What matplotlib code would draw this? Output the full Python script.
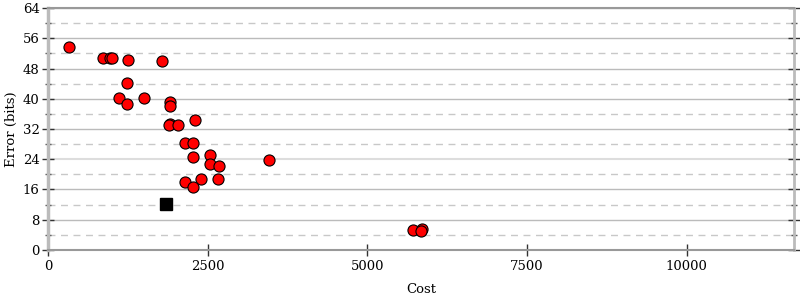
import matplotlib.pyplot as plt
from matplotlib.ticker import MultipleLocator

plt.rcParams['font.family'] = ['DejaVu Serif']

# costo y error de cada configuracion
cost = [329, 856, 970, 1000, 1247, 1779, 1241, 1111, 1241, 1507, 1904, 1904,
        1904, 1890, 2029, 2300, 2144, 2274, 2274, 2535, 2535, 2671, 3463,
        2394, 2665, 2144, 2269, 5717, 5848, 5840]
error = [53.8, 50.9, 50.8, 50.7, 50.3, 50.0, 44.2, 40.1, 38.5, 40.2, 39.2, 38.1,
         33.2, 33.0, 33.0, 34.4, 28.3, 28.4, 24.7, 25.2, 22.75, 22.3, 23.7,
         18.9, 18.8, 18.1, 16.6, 5.2, 5.5, 5.0]

# punto de referencia (cuadrado negro)
ref_cost = [1852]
ref_error = [12.1]

fig = plt.figure(figsize=(8, 3), dpi=100)
ax = fig.add_axes([0.06, 0.1667, 0.9325, 0.8066])

ax.plot(cost, error, 'o', color='red', markeredgecolor='black',
        markeredgewidth=0.8, markersize=8, zorder=3)
ax.plot(ref_cost, ref_error, 's', color='black', markersize=8.5, zorder=3)

ax.set_xlim(0, 11680)
ax.set_ylim(0, 64)
ax.xaxis.set_major_locator(MultipleLocator(2500))
ax.yaxis.set_major_locator(MultipleLocator(8))
ax.yaxis.set_minor_locator(MultipleLocator(4))

ax.grid(axis='y', which='major', color='#bbbbbb', linewidth=1)
ax.grid(axis='y', which='minor', color='#c8c8c8', linewidth=1, linestyle=(0, (5, 4)))
ax.set_axisbelow(True)
# la linea de 32 es mas clara en el original
ax.get_ygridlines()[4].set_color('#dddddd')
ax.get_ygridlines()[4].set_linewidth(1.5)

ax.tick_params(axis='y', which='major', direction='inout', length=8, width=1,
               right=True, labelsize=9.5, pad=2, color='#333333')
ax.tick_params(axis='y', which='minor', direction='inout', length=5, width=1,
               right=True, color='#555555')
ax.tick_params(axis='x', direction='inout', length=8, width=1,
               labelsize=9.5, color='#333333')

for side in ['top', 'bottom']:
    ax.spines[side].set_color('#999999')
    ax.spines[side].set_linewidth(1.5)
ax.spines['left'].set_color('#bbbbbb')
ax.spines['left'].set_linewidth(2.5)
ax.spines['right'].set_color('#bbbbbb')
ax.spines['right'].set_linewidth(2)

ax.set_xlabel('Cost', fontsize=9.5)
ax.set_ylabel('Error (bits)', fontsize=9.5)
ax.xaxis.set_label_coords(0.5, -0.135)
ax.yaxis.set_label_coords(-0.04, 0.5)

fig.savefig('out.png', dpi=100)
